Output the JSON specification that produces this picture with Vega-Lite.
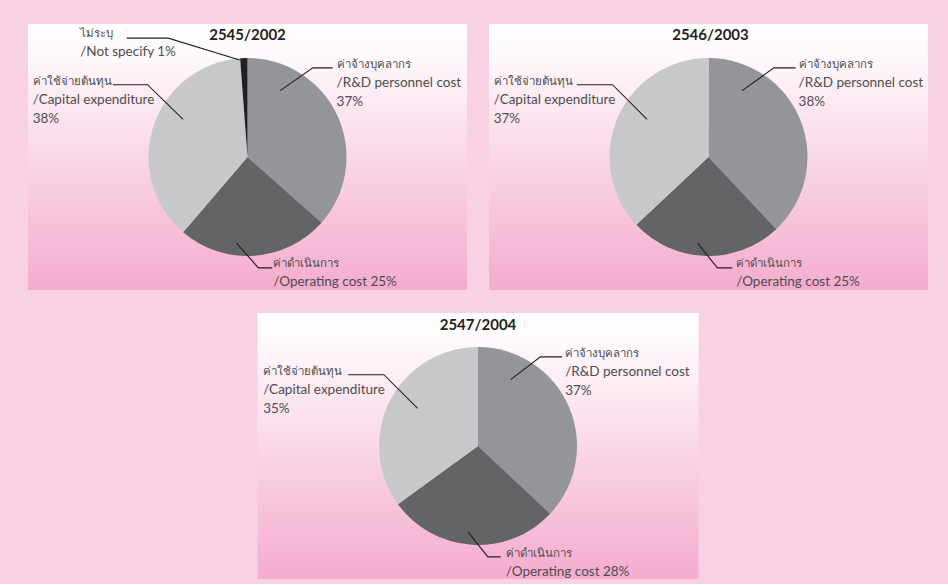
{
  "$schema": "https://vega.github.io/schema/vega-lite/v6.json",
  "background": "#f8d2e3",
  "padding": {"left": 28, "top": 24, "right": 20, "bottom": 5},
  "config": {"view": {"stroke": null}, "concat": {"spacing": 23}},
  "datasets": {
    "slices": [
      {"year": "2545/2002", "category": "R&D personnel cost", "value": 37, "order": 1},
      {"year": "2545/2002", "category": "Operating cost", "value": 25, "order": 2},
      {"year": "2545/2002", "category": "Capital expenditure", "value": 38, "order": 3},
      {"year": "2545/2002", "category": "Not specify", "value": 1.2, "order": 4},
      {"year": "2546/2003", "category": "R&D personnel cost", "value": 38, "order": 1},
      {"year": "2546/2003", "category": "Operating cost", "value": 25, "order": 2},
      {"year": "2546/2003", "category": "Capital expenditure", "value": 37, "order": 3},
      {"year": "2547/2004", "category": "R&D personnel cost", "value": 37, "order": 1},
      {"year": "2547/2004", "category": "Operating cost", "value": 28, "order": 2},
      {"year": "2547/2004", "category": "Capital expenditure", "value": 35, "order": 3}
    ],
    "leaders": [
      {"year": "2545/2002", "category": "R&D personnel cost", "step": 1, "x": 0.33, "y": 0.67},
      {"year": "2545/2002", "category": "R&D personnel cost", "step": 2, "x": 0.66, "y": 0.9},
      {"year": "2545/2002", "category": "R&D personnel cost", "step": 3, "x": 0.86, "y": 0.9},
      {"year": "2545/2002", "category": "Operating cost", "step": 1, "x": -0.11, "y": -0.87},
      {"year": "2545/2002", "category": "Operating cost", "step": 2, "x": 0.11, "y": -1.12},
      {"year": "2545/2002", "category": "Operating cost", "step": 3, "x": 0.25, "y": -1.12},
      {"year": "2545/2002", "category": "Capital expenditure", "step": 1, "x": -0.65, "y": 0.38},
      {"year": "2545/2002", "category": "Capital expenditure", "step": 2, "x": -1.01, "y": 0.73},
      {"year": "2545/2002", "category": "Capital expenditure", "step": 3, "x": -1.36, "y": 0.73},
      {"year": "2545/2002", "category": "Not specify", "step": 1, "x": -0.08, "y": 0.98},
      {"year": "2545/2002", "category": "Not specify", "step": 2, "x": -0.8, "y": 1.2},
      {"year": "2545/2002", "category": "Not specify", "step": 3, "x": -1.22, "y": 1.2},
      {"year": "2546/2003", "category": "R&D personnel cost", "step": 1, "x": 0.34, "y": 0.67},
      {"year": "2546/2003", "category": "R&D personnel cost", "step": 2, "x": 0.66, "y": 0.9},
      {"year": "2546/2003", "category": "R&D personnel cost", "step": 3, "x": 0.88, "y": 0.9},
      {"year": "2546/2003", "category": "Operating cost", "step": 1, "x": -0.11, "y": -0.87},
      {"year": "2546/2003", "category": "Operating cost", "step": 2, "x": 0.09, "y": -1.12},
      {"year": "2546/2003", "category": "Operating cost", "step": 3, "x": 0.24, "y": -1.12},
      {"year": "2546/2003", "category": "Capital expenditure", "step": 1, "x": -0.62, "y": 0.38},
      {"year": "2546/2003", "category": "Capital expenditure", "step": 2, "x": -0.97, "y": 0.73},
      {"year": "2546/2003", "category": "Capital expenditure", "step": 3, "x": -1.33, "y": 0.73},
      {"year": "2547/2004", "category": "R&D personnel cost", "step": 1, "x": 0.33, "y": 0.67},
      {"year": "2547/2004", "category": "R&D personnel cost", "step": 2, "x": 0.63, "y": 0.9},
      {"year": "2547/2004", "category": "R&D personnel cost", "step": 3, "x": 0.85, "y": 0.9},
      {"year": "2547/2004", "category": "Operating cost", "step": 1, "x": -0.1, "y": -0.87},
      {"year": "2547/2004", "category": "Operating cost", "step": 2, "x": 0.1, "y": -1.12},
      {"year": "2547/2004", "category": "Operating cost", "step": 3, "x": 0.23, "y": -1.12},
      {"year": "2547/2004", "category": "Capital expenditure", "step": 1, "x": -0.61, "y": 0.38},
      {"year": "2547/2004", "category": "Capital expenditure", "step": 2, "x": -0.95, "y": 0.72},
      {"year": "2547/2004", "category": "Capital expenditure", "step": 3, "x": -1.31, "y": 0.72}
    ],
    "labels": [
      {"year": "2545/2002", "category": "R&D personnel cost", "th": "ค่าจ้างบุคลากร", "en": "/R&D personnel cost\n37%", "x": 0.9, "y": 0.93},
      {"year": "2545/2002", "category": "Operating cost", "th": "ค่าดำเนินการ", "en": "/Operating cost 25%", "x": 0.26, "y": -1.076},
      {"year": "2545/2002", "category": "Capital expenditure", "th": "ค่าใช้จ่ายต้นทุน", "en": "/Capital expenditure\n38%", "x": -2.17, "y": 0.76},
      {"year": "2545/2002", "category": "Not specify", "th": "ไม่ระบุ", "en": "/Not specify 1%", "x": -1.69, "y": 1.247},
      {"year": "2546/2003", "category": "R&D personnel cost", "th": "ค่าจ้างบุคลากร", "en": "/R&D personnel cost\n38%", "x": 0.91, "y": 0.93},
      {"year": "2546/2003", "category": "Operating cost", "th": "ค่าดำเนินการ", "en": "/Operating cost 25%", "x": 0.28, "y": -1.076},
      {"year": "2546/2003", "category": "Capital expenditure", "th": "ค่าใช้จ่ายต้นทุน", "en": "/Capital expenditure\n37%", "x": -2.17, "y": 0.76},
      {"year": "2547/2004", "category": "R&D personnel cost", "th": "ค่าจ้างบุคลากร", "en": "/R&D personnel cost\n37%", "x": 0.88, "y": 0.934},
      {"year": "2547/2004", "category": "Operating cost", "th": "ค่าดำเนินการ", "en": "/Operating cost 28%", "x": 0.28, "y": -1.086},
      {"year": "2547/2004", "category": "Capital expenditure", "th": "ค่าใช้จ่ายต้นทุน", "en": "/Capital expenditure\n35%", "x": -2.17, "y": 0.752}
    ],
    "titles": [
      {"year": "2545/2002", "x": 0, "y": 1.23},
      {"year": "2546/2003", "x": 0.02, "y": 1.23},
      {"year": "2547/2004", "x": 0, "y": 1.22}
    ]
  },
  "center": true,
  "vconcat": [
    {
      "hconcat": [
        {
          "width": 439, "height": 266,
          "view": {"stroke": null, "fill": {"gradient": "linear", "x1": 0, "y1": 0, "x2": 0, "y2": 1, "stops": [{"offset": 0, "color": "#ffffff"}, {"offset": 0.1, "color": "#fefafc"}, {"offset": 1, "color": "#f4accd"}]}},
          "layer": [
            {"data": {"name": "slices"}, "transform": [{"filter": "datum.year === '2545/2002'"}],
             "mark": {"type": "arc", "radius": 99},
             "encoding": {
               "theta": {"field": "value", "type": "quantitative", "stack": true},
               "order": {"field": "order", "type": "quantitative"},
               "color": {"field": "category", "type": "nominal", "legend": null,
                 "scale": {"domain": ["R&D personnel cost", "Operating cost", "Capital expenditure", "Not specify"], "range": ["#939598", "#636466", "#c7c8ca", "#231f20"]}}}},
            {"data": {"name": "leaders"}, "transform": [{"filter": "datum.year === '2545/2002'"}],
             "mark": {"type": "line", "color": "#231f20", "strokeWidth": 1.1},
             "encoding": {
               "x": {"field": "x", "type": "quantitative", "axis": null, "scale": {"domain": [-2.217, 2.217], "nice": false, "zero": false}},
               "y": {"field": "y", "type": "quantitative", "axis": null, "scale": {"domain": [-1.343, 1.343], "nice": false, "zero": false}},
               "detail": {"field": "category"},
               "order": {"field": "step", "type": "quantitative"}}},
            {"data": {"name": "labels"}, "transform": [{"filter": "datum.year === '2545/2002'"}],
             "mark": {"type": "text", "align": "left", "baseline": "middle", "fontSize": 11.5, "font": "Lato", "color": "#4d4d4f"},
             "encoding": {
               "x": {"field": "x", "type": "quantitative"},
               "y": {"field": "y", "type": "quantitative"},
               "text": {"field": "th"}}},
            {"data": {"name": "labels"}, "transform": [{"filter": "datum.year === '2545/2002'"}],
             "mark": {"type": "text", "align": "left", "baseline": "middle", "dy": 18.5, "lineBreak": "\n", "lineHeight": 18.5, "fontSize": 13.5, "font": "Lato", "color": "#4d4d4f"},
             "encoding": {
               "x": {"field": "x", "type": "quantitative"},
               "y": {"field": "y", "type": "quantitative"},
               "text": {"field": "en"}}},
            {"data": {"name": "titles"}, "transform": [{"filter": "datum.year === '2545/2002'"}],
             "mark": {"type": "text", "align": "center", "baseline": "middle", "fontSize": 15, "fontWeight": "bold", "font": "Lato", "color": "#231f20"},
             "encoding": {
               "x": {"field": "x", "type": "quantitative"},
               "y": {"field": "y", "type": "quantitative"},
               "text": {"field": "year"}}}
          ]
        },
        {
          "width": 439, "height": 266,
          "view": {"stroke": null, "fill": {"gradient": "linear", "x1": 0, "y1": 0, "x2": 0, "y2": 1, "stops": [{"offset": 0, "color": "#ffffff"}, {"offset": 0.1, "color": "#fefafc"}, {"offset": 1, "color": "#f4accd"}]}},
          "layer": [
            {"data": {"name": "slices"}, "transform": [{"filter": "datum.year === '2546/2003'"}],
             "mark": {"type": "arc", "radius": 99},
             "encoding": {
               "theta": {"field": "value", "type": "quantitative", "stack": true},
               "order": {"field": "order", "type": "quantitative"},
               "color": {"field": "category", "type": "nominal", "legend": null,
                 "scale": {"domain": ["R&D personnel cost", "Operating cost", "Capital expenditure", "Not specify"], "range": ["#939598", "#636466", "#c7c8ca", "#231f20"]}}}},
            {"data": {"name": "leaders"}, "transform": [{"filter": "datum.year === '2546/2003'"}],
             "mark": {"type": "line", "color": "#231f20", "strokeWidth": 1.1},
             "encoding": {
               "x": {"field": "x", "type": "quantitative", "axis": null, "scale": {"domain": [-2.217, 2.217], "nice": false, "zero": false}},
               "y": {"field": "y", "type": "quantitative", "axis": null, "scale": {"domain": [-1.343, 1.343], "nice": false, "zero": false}},
               "detail": {"field": "category"},
               "order": {"field": "step", "type": "quantitative"}}},
            {"data": {"name": "labels"}, "transform": [{"filter": "datum.year === '2546/2003'"}],
             "mark": {"type": "text", "align": "left", "baseline": "middle", "fontSize": 11.5, "font": "Lato", "color": "#4d4d4f"},
             "encoding": {
               "x": {"field": "x", "type": "quantitative"},
               "y": {"field": "y", "type": "quantitative"},
               "text": {"field": "th"}}},
            {"data": {"name": "labels"}, "transform": [{"filter": "datum.year === '2546/2003'"}],
             "mark": {"type": "text", "align": "left", "baseline": "middle", "dy": 18.5, "lineBreak": "\n", "lineHeight": 18.5, "fontSize": 13.5, "font": "Lato", "color": "#4d4d4f"},
             "encoding": {
               "x": {"field": "x", "type": "quantitative"},
               "y": {"field": "y", "type": "quantitative"},
               "text": {"field": "en"}}},
            {"data": {"name": "titles"}, "transform": [{"filter": "datum.year === '2546/2003'"}],
             "mark": {"type": "text", "align": "center", "baseline": "middle", "fontSize": 15, "fontWeight": "bold", "font": "Lato", "color": "#231f20"},
             "encoding": {
               "x": {"field": "x", "type": "quantitative"},
               "y": {"field": "y", "type": "quantitative"},
               "text": {"field": "year"}}}
          ]
        }
      ],
      "spacing": 22
    },
    {
      "width": 441, "height": 266,
      "view": {"stroke": null, "fill": {"gradient": "linear", "x1": 0, "y1": 0, "x2": 0, "y2": 1, "stops": [{"offset": 0, "color": "#ffffff"}, {"offset": 0.1, "color": "#fefafc"}, {"offset": 1, "color": "#f4accd"}]}},
      "layer": [
        {"data": {"name": "slices"}, "transform": [{"filter": "datum.year === '2547/2004'"}],
         "mark": {"type": "arc", "radius": 99},
         "encoding": {
           "theta": {"field": "value", "type": "quantitative", "stack": true},
           "order": {"field": "order", "type": "quantitative"},
           "color": {"field": "category", "type": "nominal", "legend": null,
             "scale": {"domain": ["R&D personnel cost", "Operating cost", "Capital expenditure", "Not specify"], "range": ["#939598", "#636466", "#c7c8ca", "#231f20"]}}}},
        {"data": {"name": "leaders"}, "transform": [{"filter": "datum.year === '2547/2004'"}],
         "mark": {"type": "line", "color": "#231f20", "strokeWidth": 1.1},
         "encoding": {
           "x": {"field": "x", "type": "quantitative", "axis": null, "scale": {"domain": [-2.227, 2.227], "nice": false, "zero": false}},
           "y": {"field": "y", "type": "quantitative", "axis": null, "scale": {"domain": [-1.343, 1.343], "nice": false, "zero": false}},
           "detail": {"field": "category"},
           "order": {"field": "step", "type": "quantitative"}}},
        {"data": {"name": "labels"}, "transform": [{"filter": "datum.year === '2547/2004'"}],
         "mark": {"type": "text", "align": "left", "baseline": "middle", "fontSize": 11.5, "font": "Lato", "color": "#4d4d4f"},
         "encoding": {
           "x": {"field": "x", "type": "quantitative"},
           "y": {"field": "y", "type": "quantitative"},
           "text": {"field": "th"}}},
        {"data": {"name": "labels"}, "transform": [{"filter": "datum.year === '2547/2004'"}],
         "mark": {"type": "text", "align": "left", "baseline": "middle", "dy": 18.5, "lineBreak": "\n", "lineHeight": 18.5, "fontSize": 13.5, "font": "Lato", "color": "#4d4d4f"},
         "encoding": {
           "x": {"field": "x", "type": "quantitative"},
           "y": {"field": "y", "type": "quantitative"},
           "text": {"field": "en"}}},
        {"data": {"name": "titles"}, "transform": [{"filter": "datum.year === '2547/2004'"}],
         "mark": {"type": "text", "align": "center", "baseline": "middle", "fontSize": 15, "fontWeight": "bold", "font": "Lato", "color": "#231f20"},
         "encoding": {
           "x": {"field": "x", "type": "quantitative"},
           "y": {"field": "y", "type": "quantitative"},
           "text": {"field": "year"}}}
      ]
    }
  ]
}
